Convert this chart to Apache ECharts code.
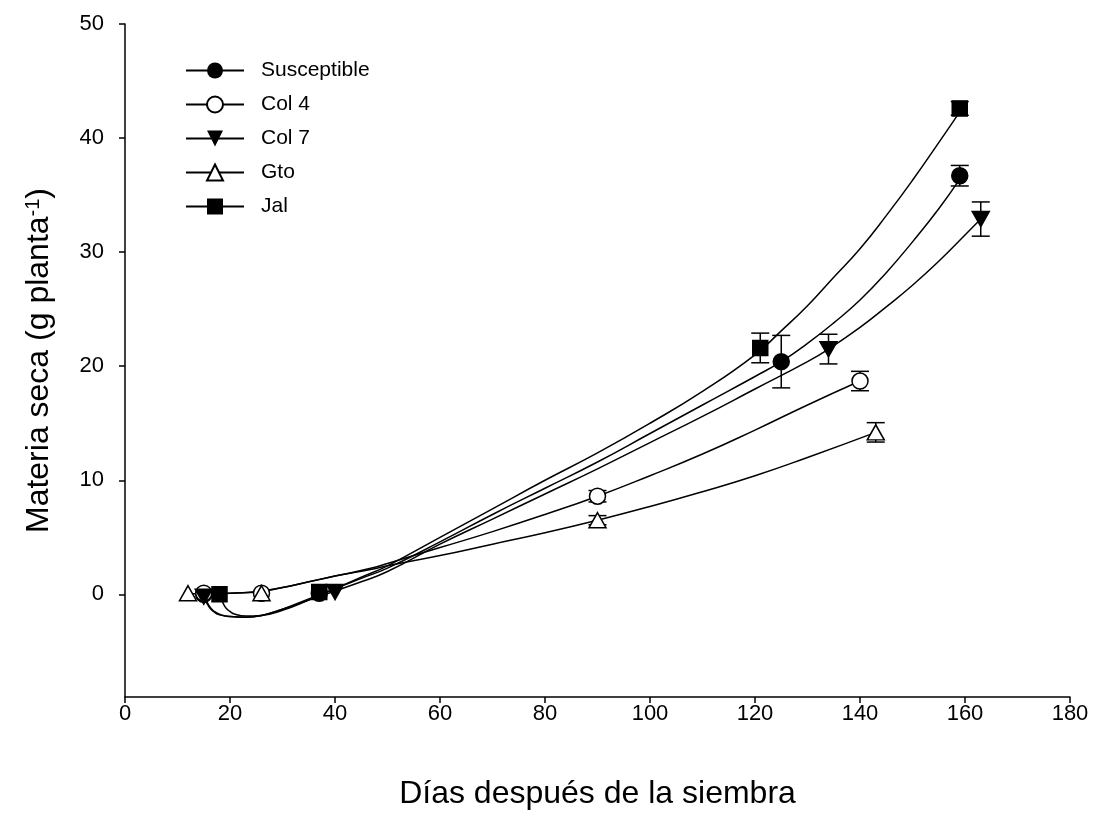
<!DOCTYPE html>
<html>
<head>
<meta charset="utf-8">
<script src="https://cdn.jsdelivr.net/npm/echarts@6/dist/echarts.min.js"></script>
<style>
  html, body { margin: 0; padding: 0; background: #fff; }
  #chart { width: 1096px; height: 815px; }
</style>
</head>
<body>
<div id="chart"></div>
<script>
// Dry matter (g per plant) against days after sowing, five materials.

const varieties = ['Susceptible', 'Col 4', 'Col 7', 'Gto', 'Jal'];

// Measured means and error half-widths
const susDays = [15, 37, 125, 159];
const susMass = [0.0, 0.1, 20.4, 36.7];
const susErr  = [0, 0, 2.3, 0.9];

const col4Days = [15, 26, 90, 140];
const col4Mass = [0.1, 0.1, 8.6, 18.7];
const col4Err  = [0, 0, 0.5, 0.85];

const col7Days = [15, 40, 134, 163];
const col7Mass = [-0.2, 0.2, 21.5, 32.9];
const col7Err  = [0, 0, 1.3, 1.5];

const gtoDays = [12, 26, 90, 143];
const gtoMass = [0.1, 0.1, 6.5, 14.2];
const gtoErr  = [0, 0, 0.4, 0.85];

const jalDays = [18, 37, 121, 159];
const jalMass = [0.0, 0.2, 21.6, 42.6];
const jalErr  = [0, 0, 1.3, 0.6];

// Fitted growth curves
const susFitDays = [15, 16, 17, 18, 20, 23, 26, 30, 35, 40, 45, 50, 60, 70, 80, 90, 100, 110, 120, 125, 130, 135, 140, 145, 150, 155, 159];
const susFitMass = [0, -1.0, -1.5, -1.75, -1.95, -2.0, -1.85, -1.3, -0.4, 0.5, 1.4, 2.3, 4.6, 7.0, 9.3, 11.6, 14.1, 16.6, 19.1, 20.4, 22.0, 23.8, 25.8, 28.2, 30.9, 33.8, 36.4];

const col4FitDays = [15, 20, 26, 30, 35, 40, 47, 50, 60, 70, 80, 90, 100, 110, 120, 130, 140];
const col4FitMass = [0.05, 0.1, 0.25, 0.6, 1.1, 1.6, 2.3, 2.7, 4.1, 5.5, 7.0, 8.6, 10.4, 12.3, 14.4, 16.6, 18.7];

const col7FitDays = [15, 16, 17, 18, 20, 23, 26, 30, 35, 40, 45, 50, 60, 70, 80, 90, 100, 110, 120, 130, 134, 140, 145, 150, 155, 160, 163];
const col7FitMass = [-0.2, -1.1, -1.55, -1.8, -1.95, -2.0, -1.85, -1.3, -0.5, 0.3, 1.1, 2.0, 4.4, 6.6, 8.8, 11.0, 13.3, 15.6, 18.0, 20.4, 21.5, 23.4, 25.2, 27.1, 29.2, 31.5, 32.9];

const gtoFitDays = [12, 20, 26, 30, 35, 40, 47, 50, 60, 70, 80, 90, 100, 110, 120, 130, 143];
const gtoFitMass = [0.05, 0.1, 0.3, 0.6, 1.1, 1.6, 2.2, 2.5, 3.4, 4.4, 5.4, 6.5, 7.7, 9.0, 10.4, 12.0, 14.2];

const jalFitDays = [18, 19, 20, 21, 23, 26, 30, 35, 40, 45, 50, 60, 70, 80, 90, 100, 110, 120, 125, 130, 135, 140, 145, 150, 155, 159];
const jalFitMass = [0, -1.05, -1.5, -1.75, -1.9, -1.85, -1.4, -0.5, 0.5, 1.5, 2.5, 5.0, 7.5, 10.0, 12.4, 15.0, 17.8, 21.0, 23.1, 25.3, 27.8, 30.3, 33.2, 36.3, 39.6, 42.3];

// Axis ranges and ticks
const xTicks = [0, 20, 40, 60, 80, 100, 120, 140, 160, 180];
const yMin = -9;
const yTicks = [0, 10, 20, 30, 40, 50];

const groups = [
  { name: varieties[0], days: susDays, mass: susMass, err: susErr, fitX: susFitDays, fitY: susFitMass,
    lineSymbol: 'circle', symbol: 'circle', rotate: 0, size: 16, fill: '#000' },
  { name: varieties[1], days: col4Days, mass: col4Mass, err: col4Err, fitX: col4FitDays, fitY: col4FitMass,
    lineSymbol: 'emptyCircle', symbol: 'circle', rotate: 0, size: 16, fill: '#fff' },
  { name: varieties[2], days: col7Days, mass: col7Mass, err: col7Err, fitX: col7FitDays, fitY: col7FitMass,
    lineSymbol: 'triangle', symbol: 'triangle', rotate: 180, size: [17, 15], fill: '#000' },
  { name: varieties[3], days: gtoDays, mass: gtoMass, err: gtoErr, fitX: gtoFitDays, fitY: gtoFitMass,
    lineSymbol: 'emptyTriangle', symbol: 'triangle', rotate: 0, size: [17, 15], fill: '#fff' },
  { name: varieties[4], days: jalDays, mass: jalMass, err: jalErr, fitX: jalFitDays, fitY: jalFitMass,
    lineSymbol: 'rect', symbol: 'rect', rotate: 0, size: 15, fill: '#000' }
];

const FONT = 'Liberation Sans, Arial, sans-serif';
const series = [];

// fitted curves (first per name, so the legend icon comes from them)
groups.forEach(g => {
  series.push({
    name: g.name,
    type: 'line',
    data: g.fitX.map((x, i) => [x, g.fitY[i]]),
    smooth: 0.5,
    showSymbol: false,
    symbol: g.lineSymbol,
    symbolRotate: g.rotate,
    color: '#000',
    lineStyle: { color: '#000', width: 1.5 },
    z: 2,
    silent: true
  });
});

// error bars
groups.forEach(g => {
  const bars = [];
  g.days.forEach((d, i) => {
    if (g.err[i] > 0) bars.push([d, g.mass[i] - g.err[i], g.mass[i] + g.err[i]]);
  });
  series.push({
    name: g.name,
    type: 'custom',
    data: bars,
    z: 3,
    silent: true,
    renderItem: function (params, api) {
      const x = api.value(0);
      const lo = api.coord([x, api.value(1)]);
      const hi = api.coord([x, api.value(2)]);
      const hw = 9;
      const st = { stroke: '#000', lineWidth: 1.5 };
      return {
        type: 'group',
        children: [
          { type: 'line', shape: { x1: lo[0], y1: lo[1], x2: hi[0], y2: hi[1] }, style: st },
          { type: 'line', shape: { x1: lo[0] - hw, y1: lo[1], x2: lo[0] + hw, y2: lo[1] }, style: st },
          { type: 'line', shape: { x1: hi[0] - hw, y1: hi[1], x2: hi[0] + hw, y2: hi[1] }, style: st }
        ]
      };
    }
  });
});

// measured points
groups.forEach(g => {
  series.push({
    name: g.name,
    type: 'scatter',
    data: g.days.map((d, i) => [d, g.mass[i]]),
    symbol: g.symbol,
    symbolRotate: g.rotate,
    symbolSize: g.size,
    itemStyle: { color: g.fill, borderColor: '#000', borderWidth: 1.5, opacity: 1 },
    z: 4,
    silent: true
  });
});

const chart = echarts.init(document.getElementById('chart'), null, { renderer: 'canvas' });
chart.setOption({
  animation: false,
  backgroundColor: '#fff',
  grid: { left: 125, right: 26, top: 24, bottom: 111, containLabel: false },
  legend: {
    data: varieties,
    orient: 'vertical',
    left: 180,
    top: 55,
    itemWidth: 58,
    itemHeight: 20,
    itemGap: 13,
    selectedMode: false,
    textStyle: { fontFamily: FONT, fontSize: 21, color: '#000', padding: [0, 0, 0, 12] }
  },
  xAxis: {
    type: 'value',
    min: xTicks[0],
    max: xTicks[xTicks.length - 1],
    interval: xTicks[1] - xTicks[0],
    name: 'Días después de la siembra',
    nameLocation: 'middle',
    nameGap: 81,
    nameTextStyle: { fontFamily: FONT, fontSize: 32, color: '#000' },
    axisLine: { onZero: false, lineStyle: { color: '#000', width: 1.5 } },
    axisTick: { length: 6, lineStyle: { color: '#000', width: 1.5 } },
    axisLabel: { fontFamily: FONT, fontSize: 22, color: '#000', margin: 6 },
    splitLine: { show: false }
  },
  yAxis: {
    type: 'value',
    min: yMin,
    max: yTicks[yTicks.length - 1],
    name: 'Materia seca (g planta{sup|-1})',
    nameLocation: 'middle',
    nameGap: 70,
    nameTextStyle: {
      fontFamily: FONT, fontSize: 32, color: '#000',
      rich: { sup: { fontFamily: FONT, fontSize: 20, color: '#000', verticalAlign: 'top', padding: [0, 0, 10, 0] } }
    },
    axisLine: { show: true, lineStyle: { color: '#000', width: 1.5 } },
    axisTick: { length: 6, customValues: yTicks, lineStyle: { color: '#000', width: 1.5 } },
    axisLabel: { fontFamily: FONT, fontSize: 22, color: '#000', margin: 21, customValues: yTicks },
    splitLine: { show: false }
  },
  series: series
});
</script>
</body>
</html>
